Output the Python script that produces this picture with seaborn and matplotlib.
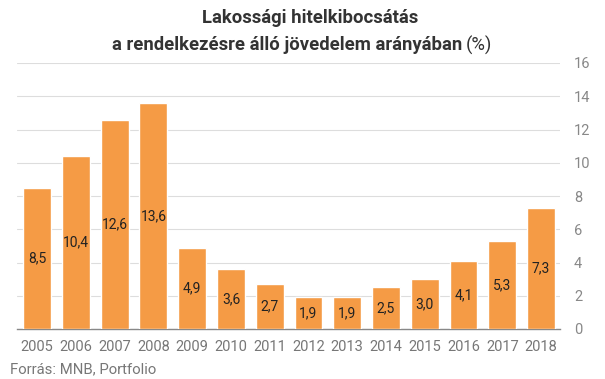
import numpy as np
import pandas as pd
import matplotlib.pyplot as plt
import seaborn as sns

years = ['2005', '2006', '2007', '2008', '2009', '2010', '2011',
         '2012', '2013', '2014', '2015', '2016', '2017', '2018']
values = [8.5, 10.4, 12.6, 13.6, 4.9, 3.6, 2.7, 1.9, 1.9, 2.5, 3.0, 4.1, 5.3, 7.3]
yticks = [0, 2, 4, 6, 8, 10, 12, 14, 16]

sns.set_style('white')
plt.rcParams['font.family'] = ['Roboto', 'DejaVu Sans']

df = pd.DataFrame({'year': years, 'value': values})

fig = plt.figure(figsize=(6.05, 3.79), dpi=100)
ax = fig.add_axes([17 / 605, 50 / 379, 543 / 605, 266 / 379])

sns.barplot(data=df, x='year', y='value', color='#F59B45', saturation=1,
            width=0.72, ax=ax, zorder=3)

# value labels in the middle of bars
for i, v in enumerate(values):
    ax.text(i, v / 2, f'{v:.1f}'.replace('.', ','), ha='center', va='center',
            fontsize=10, color='#222222', zorder=4)

ax.set_xlim(-0.52, 13.49)
ax.set_ylim(0, 16)
ax.set_yticks(yticks)
ax.yaxis.tick_right()
ax.grid(axis='y', color='#dddddd', linewidth=0.8, zorder=0)
for s in ['top', 'right', 'left']:
    ax.spines[s].set_visible(False)
ax.spines['bottom'].set_color('#888888')
ax.spines['bottom'].set_linewidth(1)
ax.tick_params(axis='y', length=0, pad=10, labelsize=10.5, labelcolor='#888888')
ax.tick_params(axis='x', length=0, pad=8, labelsize=10.5, labelcolor='#777777')
ax.set_xlabel('')
ax.set_ylabel('')

fig.text(310 / 605, 1 - 18 / 379, 'Lakossági hitelkibocsátás', ha='center', va='center',
         fontsize=13.3, fontweight='bold', color='#333333')
fig.text(462 / 605, 1 - 45 / 379, 'a rendelkezésre álló jövedelem arányában', ha='right',
         va='center', fontsize=13.3, fontweight='bold', color='#333333')
fig.text(466 / 605, 1 - 45 / 379, '(%)', ha='left', va='center',
         fontsize=13.3, color='#333333')
fig.text(10 / 605, 1 - 369 / 379, 'Forrás: MNB, Portfolio', ha='left', va='center',
         fontsize=10.7, color='#777777')

fig.savefig('out.png', dpi=100)
